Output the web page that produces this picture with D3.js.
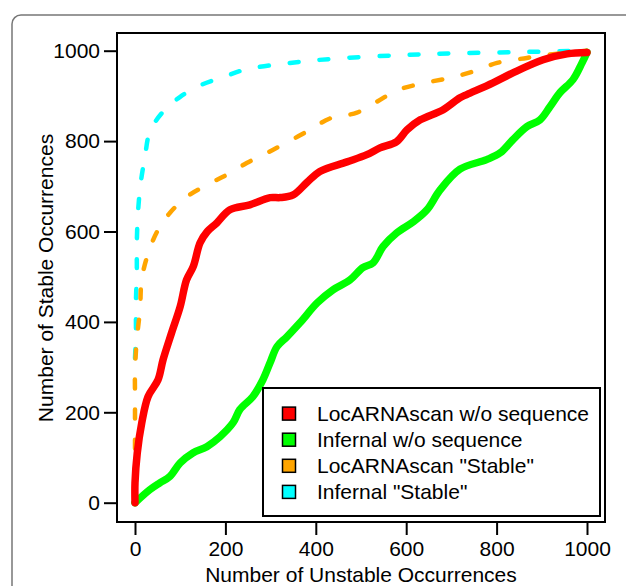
<!DOCTYPE html>
<html>
<head>
<meta charset="utf-8">
<script src="https://cdn.jsdelivr.net/npm/d3@7"></script>
<style>
  body { margin: 0; background: #fff; }
  svg { display: block; font-family: "Liberation Sans", Arial, sans-serif; }
</style>
</head>
<body>
<div id="canvas"></div>
<script>
// series as [unstable, stable]
var locarnaNoSeq = [[0,0],[0,44],[5,110],[15,177],[29,235],[51,272],[62,316],[81,376],[100,434],[114,493],[129,523],[144,575],[160,600],[181,619],[210,648],[254,659],[299,675],[321,675],[350,681],[380,708],[409,733],[469,754],[513,770],[542,785],[579,799],[602,825],[631,847],[681,869],[719,896],[734,903],[792,929],[836,951],[903,980],[956,993],[1000,996]];
var infernalNoSeq = [[0,0],[33,29],[55,44],[77,58],[100,88],[128,110],[159,124],[188,146],[217,177],[232,206],[261,235],[283,272],[299,310],[314,345],[336,367],[365,398],[403,442],[438,471],[476,493],[504,520],[527,531],[549,567],[579,597],[615,621],[646,648],[675,692],[719,738],[778,759],[808,774],[836,803],[867,832],[896,847],[918,876],[940,907],[969,936],[989,973],[1000,996]];
var locarnaStable = [[0,120],[0,235],[0,294],[4,361],[11,427],[15,495],[29,551],[49,600],[77,641],[115,677],[159,703],[204,726],[248,752],[292,774],[336,797],[387,825],[431,850],[491,863],[535,887],[579,912],[637,928],[697,940],[748,954],[801,973],[867,984],[930,993],[1000,1000]];
var infernalStable = [[0,320],[2,376],[2,442],[4,509],[4,575],[7,648],[13,710],[22,765],[33,821],[62,865],[100,898],[148,925],[199,943],[243,958],[343,973],[450,983],[586,990],[700,994],[850,997],[1000,1000]];

var legendNames = ["LocARNAscan w/o sequence", "Infernal w/o sequence", "LocARNAscan \"Stable\"", "Infernal \"Stable\""];
var seriesColors = ["#ff0000", "#00ff00", "#ffa500", "#00ffff"];
var tickValues = [0, 200, 400, 600, 800, 1000];

var winWidth = 626, winHeight = 586;

var svg = d3.select("#canvas").append("svg")
  .attr("width", winWidth)
  .attr("height", winHeight);

// outer panel frame (runs off the right / bottom)
svg.append("rect")
  .attr("x", 12).attr("y", 15)
  .attr("width", 700).attr("height", 700)
  .attr("rx", 9)
  .attr("fill", "none")
  .attr("stroke", "#777")
  .attr("stroke-width", 1.5);

// plot box
const box = { left: 117, top: 33, right: 605, bottom: 522 };

var x = d3.scaleLinear().domain([0, 1000]).range([135, 587]);
var y = d3.scaleLinear().domain([0, 1000]).range([502.7, 50.7]);

var line = d3.line()
  .curve(d3.curveCatmullRom.alpha(0.5))
  .x(function(d) { return x(d[0]); })
  .y(function(d) { return y(d[1]); });

var g = svg.append("g");

// dashed ones underneath, solid on top
var dashed = [infernalStable, locarnaStable];
var dashedColors = [seriesColors[3], seriesColors[2]];
dashed.forEach(function(s, i) {
  g.append("path")
    .datum(s)
    .attr("d", line)
    .attr("fill", "none")
    .attr("stroke", dashedColors[i])
    .attr("stroke-width", 4.5)
    .attr("stroke-linecap", "round")
    .attr("stroke-linejoin", "round")
    .attr("stroke-dasharray", "9,21");
});

[infernalNoSeq, locarnaNoSeq].forEach(function(s, i) {
  g.append("path")
    .datum(s)
    .attr("d", line)
    .attr("fill", "none")
    .attr("stroke", i == 0 ? seriesColors[1] : seriesColors[0])
    .attr("stroke-width", 7.5)
    .attr("stroke-linecap", "round")
    .attr("stroke-linejoin", "round");
});

svg.append("rect")
  .attr("x", box.left).attr("y", box.top)
  .attr("width", box.right - box.left)
  .attr("height", box.bottom - box.top)
  .attr("fill", "none")
  .attr("stroke", "#000")
  .attr("stroke-width", 2);

// axes
var xAxis = d3.axisBottom(x).tickValues(tickValues).tickSize(13).tickPadding(6).tickFormat(d3.format("d"));
var yAxis = d3.axisLeft(y).tickValues(tickValues).tickSize(13).tickPadding(4).tickFormat(d3.format("d"));

var gX = svg.append("g")
  .attr("transform", "translate(0," + box.bottom + ")")
  .call(xAxis);
var gY = svg.append("g")
  .attr("transform", "translate(" + box.left + ",0)")
  .call(yAxis);

[gX, gY].forEach(function(a) {
  a.select(".domain").remove();
  a.selectAll(".tick line").attr("stroke", "#000").attr("stroke-width", 2);
  a.selectAll(".tick text")
    .attr("fill", "#000")
    .style("font-size", "21px")
    .style("font-family", "'Liberation Sans', Arial, sans-serif");
});

svg.append("text")
  .attr("x", 361).attr("y", 582)
  .attr("text-anchor", "middle")
  .style("font-size", "21px")
  .text("Number of Unstable Occurrences");

svg.append("text")
  .attr("transform", "translate(53,278) rotate(-90)")
  .attr("text-anchor", "middle")
  .style("font-size", "21px")
  .text("Number of Stable Occurrences");

// legend
var legend = svg.append("g");
legend.append("rect")
  .attr("x", 263).attr("y", 388)
  .attr("width", 337).attr("height", 128)
  .attr("fill", "#fff")
  .attr("stroke", "#000")
  .attr("stroke-width", 2);

var rows = legend.selectAll(".row")
  .data(legendNames)
  .enter().append("g")
  .attr("class", "row")
  .attr("transform", function(d, i) { return "translate(289," + (413.6 + i * 26.1) + ")"; });

rows.append("rect")
  .attr("x", -6.5).attr("y", -6.5)
  .attr("width", 13).attr("height", 13)
  .attr("fill", function(d, i) { return seriesColors[i]; })
  .attr("stroke", "#000")
  .attr("stroke-width", 1.5);

rows.append("text")
  .attr("x", 28).attr("y", 7.5)
  .style("font-size", "21px")
  .text(function(d) { return d; });
</script>
</body>
</html>
